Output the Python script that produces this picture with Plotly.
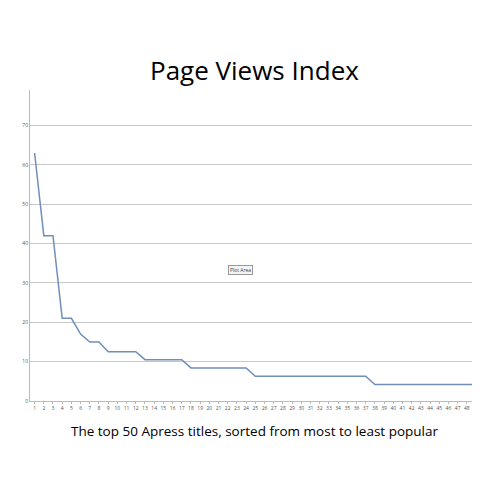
import plotly.graph_objs as go

ranks = list(range(1, 51))
views = [63, 42, 42, 21, 21, 17, 15, 15, 12.5, 12.5, 12.5, 12.5,
         10.5, 10.5, 10.5, 10.5, 10.5,
         8.4, 8.4, 8.4, 8.4, 8.4, 8.4, 8.4] + [6.3] * 13 + [4.2] * 13

trace = go.Scatter(x=ranks, y=views, mode='lines',
                   line=dict(color='#6f8fb8', width=1.5), showlegend=False)

layout = go.Layout(
    width=480, height=480,
    paper_bgcolor='white', plot_bgcolor='white',
    margin=dict(l=22, r=0, t=82, b=87),
    font=dict(family='Open Sans', color='#555'),
    xaxis=dict(range=[0.5, 50.3], tickmode='linear', dtick=1, showgrid=False,
               showline=True, linecolor='#bbb', ticks='outside', ticklen=2,
               tickcolor='#bbb', tickfont=dict(size=5), zeroline=False,
               automargin=False),
    yaxis=dict(range=[0, 79], tickvals=[0, 10, 20, 30, 40, 50, 60, 70],
               showgrid=True, gridcolor='#c8c8c8', gridwidth=1.2,
               showline=True, linecolor='#bbb', tickfont=dict(size=5),
               zeroline=False, automargin=False),
    annotations=[
        dict(text='Page Views Index', xref='paper', yref='paper', x=0.49, y=1.064,
             yanchor='middle', showarrow=False,
             font=dict(family='Open Sans', size=26, color='black')),
        dict(text='The top 50 Apress titles, sorted from most to least popular',
             xref='paper', yref='paper', x=0.49, y=-0.096, yanchor='middle',
             showarrow=False, font=dict(family='Open Sans', size=13.5, color='black')),
        dict(text='Plot Area', xref='paper', yref='paper', x=0.46, y=0.42,
             showarrow=False, font=dict(size=5, color='#444'),
             bordercolor='#999', borderwidth=1, bgcolor='#f4f4f4', borderpad=1),
    ],
)

fig = go.Figure(data=[trace], layout=layout)
fig.write_html('out.html')
